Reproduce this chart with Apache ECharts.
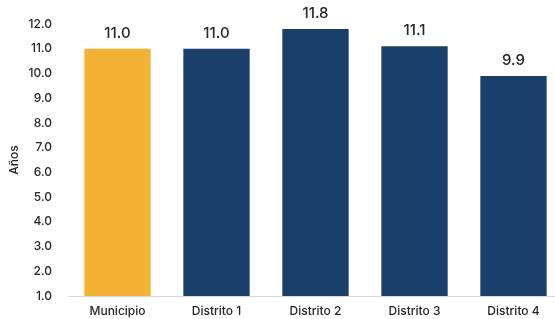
<!DOCTYPE html>
<html><head><meta charset="utf-8">
<script src="https://cdn.jsdelivr.net/npm/echarts@6/dist/echarts.min.js"></script>
<style>html,body{margin:0;padding:0;background:#fff}#c{width:555px;height:319px}</style>
</head><body><div id="c"></div>
<script>
const categories = ["Municipio", "Distrito 1", "Distrito 2", "Distrito 3", "Distrito 4"];
const values = [11.0, 11.0, 11.8, 11.1, 9.9];
const barColors = ["#F4B234", "#1A3F6B", "#1A3F6B", "#1A3F6B", "#1A3F6B"];
const yTicks = { min: 1, max: 12, interval: 1 };
const yName = "Años";

const chart = echarts.init(document.getElementById('c'), null, { renderer: 'canvas' });
const font = "Inter, 'Open Sans', sans-serif";
chart.setOption({
  animation: false,
  grid: { left: 68, top: 24, right: -8, bottom: 23, outerBoundsMode: 'none', containLabel: false },
  xAxis: {
    type: 'category', data: categories,
    axisLine: { lineStyle: { color: '#d9d9d9', width: 1 } },
    axisTick: { show: false },
    axisLabel: { color: '#262626', fontSize: 12, fontWeight: 500, fontFamily: font, margin: 9 }
  },
  yAxis: {
    type: 'value', min: yTicks.min, max: yTicks.max, interval: yTicks.interval,
    name: yName, nameLocation: 'middle', nameGap: 48, nameRotate: 90, nameMoveOverlap: false,
    nameTextStyle: { color: '#262626', fontSize: 12, fontWeight: 500, fontFamily: font },
    splitLine: { show: false }, axisLine: { show: false }, axisTick: { show: false },
    axisLabel: { color: '#262626', fontSize: 12, fontWeight: 500, fontFamily: font, margin: 16,
      formatter: v => v.toFixed(1) }
  },
  series: [{
    type: 'bar', barCategoryGap: '33%',
    data: values.map((v, i) => ({ value: v, itemStyle: { color: barColors[i] } })),
    label: { show: true, position: 'top', distance: 8, color: '#262626', fontSize: 15, fontWeight: 500,
      fontFamily: font, formatter: p => p.value.toFixed(1) }
  }]
});
</script></body></html>
